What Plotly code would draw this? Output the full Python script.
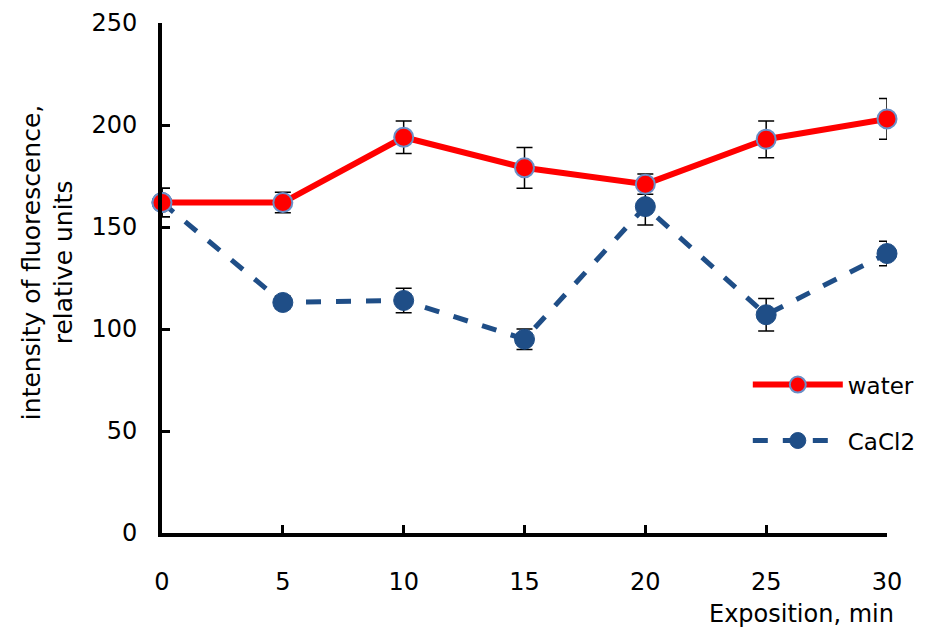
import plotly.graph_objects as go

x_min = [0, 5, 10, 15, 20, 25, 30]
water = [162, 162, 194, 179, 171, 193, 203]
water_err = [7, 5, 8, 10, 5, 9, 10]
cacl2 = [162, 113, 114, 95, 160, 107, 137]
cacl2_err = [7, 3, 6, 5, 9, 8, 6]
y_ticks = [0, 50, 100, 150, 200, 250]
x_ticks = [0, 5, 10, 15, 20, 25, 30]

FONT = "DejaVu Sans"

fig = go.Figure()
fig.add_trace(go.Scatter(
    x=x_min, y=cacl2, name="CaCl2", mode="lines+markers", legendgroup="b", legendrank=2,
    line=dict(color="#1F4E87", width=5, dash="dash"),
    marker=dict(size=20, color="#1F4E87", line=dict(color="#1F4E87", width=1)),
    error_y=dict(type="data", array=cacl2_err, color="black", thickness=1.5, width=8),
    cliponaxis=False,
))
fig.add_trace(go.Scatter(
    x=x_min, y=water, name="water", mode="lines+markers", legendgroup="a", legendrank=1,
    line=dict(color="#FF0000", width=6),
    marker=dict(size=19, color="#FF0000", line=dict(color="#6A8FC7", width=2)),
    error_y=dict(type="data", array=water_err, color="black", thickness=1.5, width=8),
    cliponaxis=False,
))

fig.update_layout(
    width=933, height=631,
    margin=dict(l=162, r=12, t=23, b=98),
    paper_bgcolor="white", plot_bgcolor="white",
    font=dict(family=FONT, size=24, color="black"),
    showlegend=True,
    legend=dict(x=0.808, y=0.333, xanchor="left", yanchor="top",
                font=dict(family=FONT, size=23, color="black"),
                tracegroupgap=23, itemwidth=90, bgcolor="rgba(0,0,0,0)"),
    xaxis=dict(range=[0, 30], tickvals=x_ticks, ticks="inside", ticklen=8, tickwidth=3,
               tickcolor="black", showline=True, linecolor="black", linewidth=4,
               showgrid=False, zeroline=False, ticklabelstandoff=24, automargin=False,
               tickfont=dict(family=FONT, size=24)),
    yaxis=dict(range=[0, 250], tickvals=y_ticks, ticks="inside", ticklen=8, tickwidth=3,
               tickcolor="black", showline=True, linecolor="black", linewidth=4,
               showgrid=False, zeroline=False, ticklabelstandoff=16, automargin=False,
               tickfont=dict(family=FONT, size=24)),
    annotations=[
        dict(text="intensity of fluorescence,<br>relative units", textangle=-90,
             xref="paper", yref="paper", x=-0.158, y=0.53, xanchor="center", yanchor="middle",
             showarrow=False, font=dict(family=FONT, size=25)),
        dict(text="Exposition, min", xref="paper", yref="paper", x=1.012, y=-0.158,
             xanchor="right", yanchor="middle", showarrow=False,
             font=dict(family=FONT, size=24)),
    ],
)

fig.write_html(
    "out.html",
    config={"responsive": False, "displayModeBar": False},
    post_script="document.body.style.margin='0';document.body.style.overflow='hidden';",
)
